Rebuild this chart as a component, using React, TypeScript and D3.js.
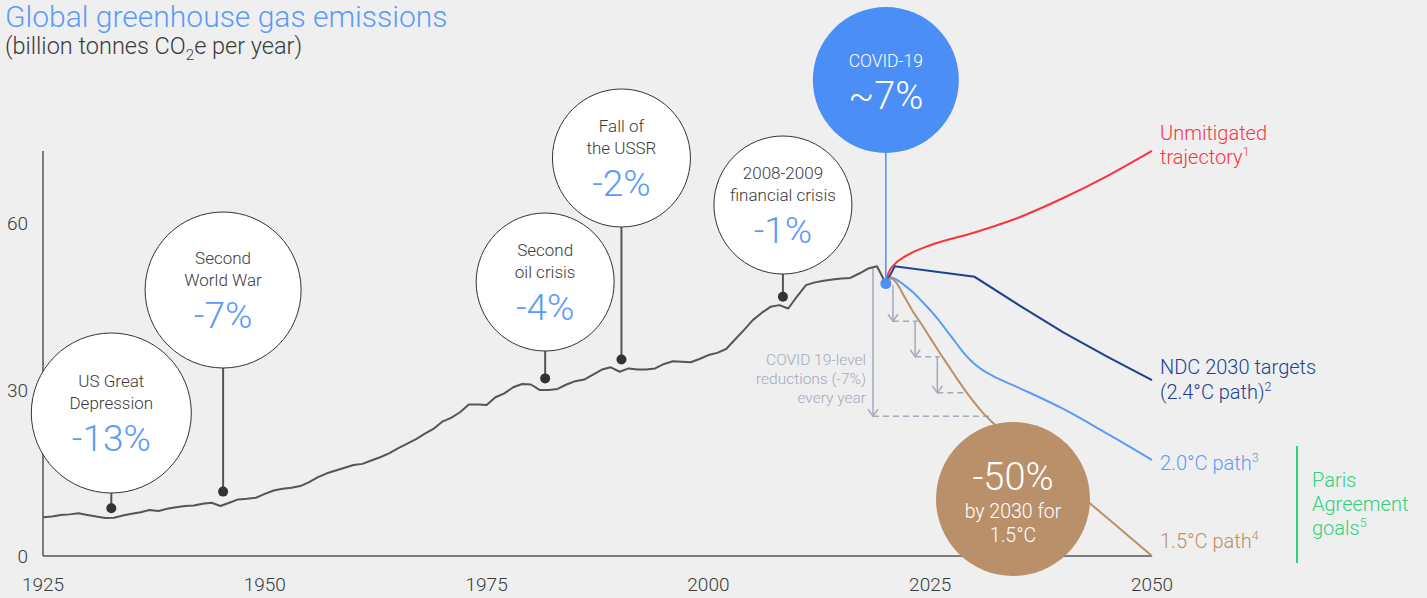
import React from "react";
import * as d3 from "d3";

const W = 1427;
const H = 598;
const FONT = "Roboto, 'Liberation Sans', Arial, sans-serif";

const bgColor = "#efefef";
const axisColor = "#555555";
const textColor = "#3a3a3a";
const pctBlue = "#5b9bf7";
const covidBlue = "#4b8ff6";
const redColor = "#f7343f";
const navyColor = "#223f8f";
const lightBlue = "#5b9bf7";
const tanColor = "#b99069";
const greenColor = "#2fcf7b";
const guideGray = "#a3aabc";

// historical emissions, billion tonnes CO2e
const histYears = d3.range(1925, 2021);
const histValues = [
  7.0, 7.1, 7.4, 7.5, 7.7, 7.4, 7.1, 6.85, 6.9, 7.3,
  7.6, 7.9, 8.3, 8.1, 8.5, 8.8, 9.0, 9.1, 9.4, 9.6,
  9.0, 9.6, 10.2, 10.3, 10.5, 11.2, 11.8, 12.1, 12.3, 12.6,
  13.3, 14.2, 14.9, 15.4, 15.9, 16.4, 16.6, 17.2, 17.8, 18.5,
  19.4, 20.2, 21.0, 22.0, 22.9, 24.2, 24.9, 25.9, 27.3, 27.3,
  27.2, 28.6, 29.3, 30.4, 31.0, 30.9, 29.9, 29.9, 30.1, 30.9,
  31.5, 31.8, 32.7, 33.6, 34.0, 33.2, 33.8, 33.6, 33.6, 33.8,
  34.6, 35.1, 35.0, 34.9, 35.5, 36.2, 36.6, 37.3, 39.0, 40.7,
  42.5, 43.8, 44.9, 45.2, 44.6, 46.8, 48.8, 49.3, 49.6, 49.8,
  50.0, 50.1, 50.9, 51.8, 52.2, 49.1,
];

// projections
const unmitYears = [2020, 2020.3, 2021, 2022, 2023, 2025, 2030, 2035, 2040, 2045, 2050];
const unmitValues = [49.1, 51.0, 52.6, 53.8, 54.7, 56.0, 58.3, 61.0, 64.5, 68.5, 73.0];

const ndcYears = [2020, 2021, 2030, 2035, 2040, 2045, 2050];
const ndcValues = [49.1, 52.2, 50.3, 45.2, 40.3, 35.9, 31.7];

const p20Years = [2020, 2020.6, 2021.2, 2022, 2023, 2024, 2025, 2026, 2027, 2028, 2029, 2030, 2031, 2032, 2035, 2040, 2045, 2050];
const p20Values = [49.1, 50.2, 49.8, 48.9, 47.6, 46.0, 44.3, 42.4, 40.3, 38.2, 36.2, 34.6, 33.4, 32.5, 30.3, 26.5, 22.0, 17.3];

const p15Years = [2020, 2020.6, 2021.2, 2022, 2023, 2024, 2025, 2026, 2027, 2028, 2029, 2030, 2031, 2032, 2035, 2040, 2045, 2050];
const p15Values = [49.1, 50.0, 49.2, 47.0, 44.2, 41.8, 39.3, 36.8, 34.4, 32.0, 29.7, 27.6, 25.7, 24.1, 20.1, 13.5, 6.8, 0];

const yTicks = [0, 30, 60];
const xTicks = [1925, 1950, 1975, 2000, 2025, 2050];

// historical shocks
const eventLines1 = ["US Great", "Second", "Second", "Fall of", "2008-2009"];
const eventLines2 = ["Depression", "World War", "oil crisis", "the USSR", "financial crisis"];
const eventPcts = ["-13%", "-7%", "-4%", "-2%", "-1%"];
const eventYears = [1932.7, 1945.3, 1981.6, 1990.2, 2008.4];
const eventValues = [8.6, 11.6, 32.0, 35.4, 46.7];
const eventCy = [413, 290, 282, 158, 205];
const eventR = [80, 78, 69, 69, 69];

// COVID-19-level steps
const stepYears = [2020.8, 2023.3, 2025.8];
const stepFrom = [48.8, 42.3, 35.9];
const stepTo = [42.3, 35.9, 29.4];
const stepEnd = [2023.6, 2026.1, 2029.1];

const x = d3.scaleLinear().domain([1925, 2050]).range([43, 1152]);
const y = d3.scaleLinear().domain([0, 60]).range([556, 223]);

const line = d3
  .line<[number, number]>()
  .x((d) => x(d[0]))
  .y((d) => y(d[1]));
const smooth = d3
  .line<[number, number]>()
  .x((d) => x(d[0]))
  .y((d) => y(d[1]))
  .curve(d3.curveMonotoneX);

const zip = (a: number[], b: number[]) => a.map((v, i) => [v, b[i]] as [number, number]);

const arrow = (px: number, py0: number, py1: number, key: string) => (
  <g key={key} stroke={guideGray} strokeWidth={1.5} fill="none">
    <line x1={px} x2={px} y1={py0} y2={py1} />
    <path d={`M${px - 5},${py1 - 7}L${px},${py1}L${px + 5},${py1 - 7}`} />
  </g>
);

const App = () => {
  const covidX = x(2020);
  const covidY = y(49.1);

  return (
    <svg
      width={W}
      height={H}
      style={{ position: "absolute", left: 0, top: 0, display: "block", background: bgColor }}
      fontFamily={FONT}
    >
      <rect width={W} height={H} fill={bgColor} />

      {/* title */}
      <text x={5} y={27} fontSize={30} fontWeight={300} fill={pctBlue}>
        Global greenhouse gas emissions
      </text>
      <text x={5} y={54} fontSize={23.5} fontWeight={300} fill={textColor}>
        (billion tonnes CO<tspan fontSize={15} dy={6}>2</tspan>
        <tspan dy={-6}>e per year)</tspan>
      </text>

      {/* axes */}
      <line x1={x(1925)} x2={x(1925)} y1={151} y2={y(0)} stroke={axisColor} strokeWidth={1.5} />
      <line x1={x(1925)} x2={x(2050)} y1={y(0)} y2={y(0)} stroke={axisColor} strokeWidth={1.5} />
      {yTicks.map((t) => (
        <text key={t} x={28} y={y(t) + 7} textAnchor="end" fontSize={19} fontWeight={300} fill={textColor}>
          {t}
        </text>
      ))}
      {xTicks.map((t) => (
        <text key={t} x={x(t)} y={591} textAnchor="middle" fontSize={19} fontWeight={300} fill={textColor}>
          {t}
        </text>
      ))}

      {/* COVID 19-level guides */}
      {arrow(x(2018.55), y(51.9), y(25.2), "big")}
      <line x1={x(2018.55)} x2={x(2031.7)} y1={y(25.2)} y2={y(25.2)} stroke={guideGray} strokeWidth={1.5} strokeDasharray="6,4" />
      {stepYears.map((yr, i) => (
        <g key={yr}>
          {arrow(x(yr), y(stepFrom[i]), y(stepTo[i]), "s" + i)}
          <line x1={x(yr)} x2={x(stepEnd[i])} y1={y(stepTo[i])} y2={y(stepTo[i])} stroke={guideGray} strokeWidth={1.5} strokeDasharray="6,4" />
        </g>
      ))}
      <g fontSize={15.5} fontWeight={300} fill={guideGray} textAnchor="end">
        <text x={866} y={365}>COVID 19-level</text>
        <text x={866} y={384}>reductions (-7%)</text>
        <text x={866} y={403}>every year</text>
      </g>

      {/* series */}
      <path d={line(zip(histYears, histValues)) || ""} fill="none" stroke={axisColor} strokeWidth={2} strokeLinejoin="round" />
      <path d={smooth(zip(unmitYears, unmitValues)) || ""} fill="none" stroke={redColor} strokeWidth={2} />
      <path d={line(zip(ndcYears, ndcValues)) || ""} fill="none" stroke={navyColor} strokeWidth={2} />
      <path d={smooth(zip(p20Years, p20Values)) || ""} fill="none" stroke={lightBlue} strokeWidth={2} />
      <path d={smooth(zip(p15Years, p15Values)) || ""} fill="none" stroke={tanColor} strokeWidth={2} />

      {/* event bubbles */}
      {eventPcts.map((p, i) => {
        const cx = x(eventYears[i]);
        const cy = eventCy[i];
        return (
          <g key={p}>
            <line x1={cx} x2={cx} y1={cy + eventR[i]} y2={y(eventValues[i])} stroke={axisColor} strokeWidth={2} />
            <circle cx={cx} cy={y(eventValues[i])} r={5} fill="#333" />
            <circle cx={cx} cy={cy} r={eventR[i]} fill="#fff" stroke="#333" strokeWidth={1} />
            <text x={cx} y={cy - 26} textAnchor="middle" fontSize={17} fontWeight={300} fill={textColor}>
              {eventLines1[i]}
            </text>
            <text x={cx} y={cy - 4} textAnchor="middle" fontSize={17} fontWeight={300} fill={textColor}>
              {eventLines2[i]}
            </text>
            <text x={cx} y={cy + 38} textAnchor="middle" fontSize={37} fontWeight={300} fill={pctBlue}>
              {p}
            </text>
          </g>
        );
      })}

      {/* COVID bubble */}
      <line x1={covidX} x2={covidX} y1={153} y2={covidY} stroke={covidBlue} strokeWidth={1.5} />
      <circle cx={covidX} cy={80} r={73} fill={covidBlue} />
      <text x={covidX} y={67} textAnchor="middle" fontSize={17.5} fontWeight={300} fill="#fff">
        COVID-19
      </text>
      <text x={covidX} y={109} textAnchor="middle" fontSize={38} fontWeight={300} fill="#fff">
        ~7%
      </text>
      <circle cx={covidX} cy={covidY} r={5.5} fill={covidBlue} />

      {/* -50% bubble */}
      <circle cx={1013} cy={499} r={77} fill={tanColor} />
      <text x={1013} y={490} textAnchor="middle" fontSize={38} fontWeight={300} fill="#fff">
        -50%
      </text>
      <text x={1013} y={518} textAnchor="middle" fontSize={19.5} fontWeight={300} fill="#fff">
        by 2030 for
      </text>
      <text x={1013} y={542} textAnchor="middle" fontSize={19.5} fontWeight={300} fill="#fff">
        1.5°C
      </text>

      {/* series labels */}
      <g fontSize={20} fontWeight={300}>
        <text x={1160} y={140} fill={redColor}>Unmitigated</text>
        <text x={1160} y={164} fill={redColor}>
          trajectory<tspan fontSize={12.5} dy={-8}>1</tspan>
        </text>
        <text x={1160} y={374} fill={navyColor}>NDC 2030 targets</text>
        <text x={1160} y={399} fill={navyColor}>
          (2.4°C path)<tspan fontSize={12.5} dy={-8}>2</tspan>
        </text>
        <text x={1160} y={470} fill={lightBlue}>
          2.0°C path<tspan fontSize={12.5} dy={-8}>3</tspan>
        </text>
        <text x={1160} y={548} fill={tanColor}>
          1.5°C path<tspan fontSize={12.5} dy={-8}>4</tspan>
        </text>
        <text x={1312} y={487} fill={greenColor}>Paris</text>
        <text x={1312} y={511} fill={greenColor}>Agreement</text>
        <text x={1312} y={535} fill={greenColor}>
          goals<tspan fontSize={12.5} dy={-8}>5</tspan>
        </text>
      </g>
      <line x1={1297} x2={1297} y1={446} y2={563} stroke={greenColor} strokeWidth={2} />
    </svg>
  );
};

export default App;
